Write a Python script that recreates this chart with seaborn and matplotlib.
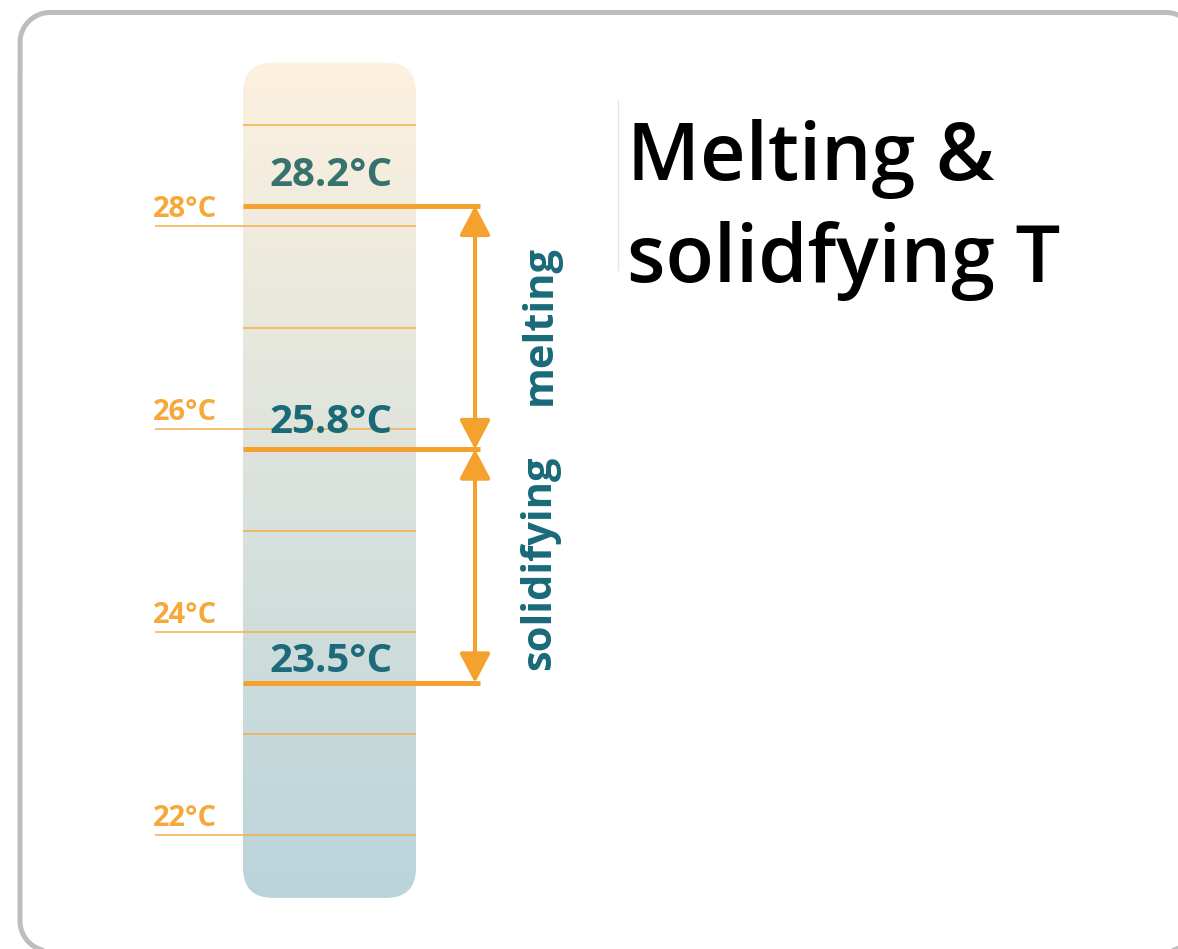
import numpy as np
import pandas as pd
import matplotlib
matplotlib.use("Agg")
import matplotlib.pyplot as plt
import matplotlib.patches as mpatches
import seaborn as sns

# ------------------------------------------------------------
# data
# ------------------------------------------------------------
tick_temps = [22, 23, 24, 25, 26, 27, 28, 29]
labeled_temps = [22, 24, 26, 28]
phase_temps = [28.2, 25.8, 23.5]
phase_label_colors = ['#37726e', '#196a79', '#1d6a7a']
phase_names = ['melting', 'solidifying']
title = 'Melting &\nsolidfying T'

col_top, col_bottom = 29.61, 21.38      # extent of the thermometer column (°C)

# ------------------------------------------------------------
# style
# ------------------------------------------------------------
sns.set_theme(style='white')
plt.rcParams['font.family'] = ['Open Sans', 'DejaVu Sans']

orange = '#f5a12e'
orange_thin = '#f7ae4a'
orange_text = '#f6a83a'
teal = '#196a79'

fig = plt.figure(figsize=(11.78, 9.49), dpi=100)

# pixel-space axes for frame / title (y measured from the bottom)
W, H = 1178, 949
frame = fig.add_axes([0, 0, 1, 1], zorder=0)
frame.set_xlim(0, W)
frame.set_ylim(0, H)
frame.axis('off')


def rounded_outline(left, top, right, bottom, r, n=40):
    # polyline of a rounded rectangle (pixel coords, y down)
    pts = []
    corners = [(right - r, top + r, -90, 0), (right - r, bottom - r, 0, 90),
               (left + r, bottom - r, 90, 180), (left + r, top + r, 180, 270)]
    for cx, cy, a0, a1 in corners:
        a = np.radians(np.linspace(a0, a1, n))
        pts += list(zip(cx + r * np.cos(a), cy + r * np.sin(a)))
    pts.append(pts[0])
    xs, ys = np.array(pts).T
    return xs, H - ys


bx, by = rounded_outline(20, 12.5, 1196, 951, 30)
frame.plot(bx, by, color='#bdbdbd', linewidth=3.6, solid_joinstyle='round',
           clip_on=True)
frame.plot([618, 618], [H - 100, H - 270], color='#dde8ec', linewidth=1)
frame.text(627, H - 119, title, fontsize=57, fontweight='semibold',
           color='black', va='top', ha='left', linespacing=1.36)

# temperature axes: x in pixels, y in °C
ax = fig.add_axes([0, 0, 1, 1], zorder=1)
ax.patch.set_alpha(0)
ax.set_xlim(0, W)
px_per_deg = 101.5
ax.set_ylim(28 - (H - 226) / px_per_deg, 28 + 226 / px_per_deg)
ax.axis('off')

# gradient column
x0, x1 = 243, 416
top_rgb = np.array([253, 241, 223]) / 255
bot_rgb = np.array([186, 212, 218]) / 255
t = np.linspace(0, 1, 256)[:, None]
grad = (top_rgb[None, :] * (1 - t) + bot_rgb[None, :] * t)[:, None, :]
col_patch = mpatches.FancyBboxPatch(
    (x0, col_bottom), x1 - x0, col_top - col_bottom,
    boxstyle='round,pad=0,rounding_size=30', mutation_aspect=1 / px_per_deg,
    facecolor='none', edgecolor='none')
ax.add_patch(col_patch)
im = ax.imshow(grad, extent=[x0, x1, col_bottom, col_top], aspect='auto',
               origin='upper', zorder=1)
im.set_clip_path(col_patch)

# scale ticks
ticks_df = pd.DataFrame({'temp': tick_temps})
ticks_df['xmin'] = np.where(ticks_df['temp'].isin(labeled_temps), 155, x0)
ax.hlines(ticks_df['temp'], ticks_df['xmin'], x1, color=orange_thin,
          linewidth=1.1, zorder=2)
for tv in labeled_temps:
    ax.annotate(f'{tv}°C', (153, tv), xytext=(0, 1.5), textcoords='offset points',
                ha='left', va='bottom', fontsize=21, fontweight='bold',
                color=orange_text, zorder=3)

# phase temperatures
label_offsets = [14.5, 11.5, 7.5]
ax.hlines(phase_temps, x0, 480, color=orange, linewidth=3.6, zorder=3)
for tv, c, off in zip(phase_temps, phase_label_colors, label_offsets):
    ax.annotate(f'{tv}°C', (331, tv), xytext=(0, off), textcoords='offset points',
                ha='center', va='baseline', fontsize=29, fontweight='bold',
                color=c, zorder=4)

# arrows between the phase lines
arrow_style = dict(arrowstyle='<|-|>,head_length=0.95,head_width=0.5',
                   mutation_scale=19, color=orange, linewidth=2.9,
                   shrinkA=0, shrinkB=0)
for (hi, lo), name in zip(zip(phase_temps[:-1], phase_temps[1:]), phase_names):
    ax.annotate('', xy=(475, hi), xytext=(475, lo), arrowprops=arrow_style,
                zorder=4)
    ax.annotate(name, (540, (hi + lo) / 2), xytext=(0, 2),
                textcoords='offset points', rotation=90, ha='center',
                va='center', fontsize=30, fontweight='bold', color=teal,
                zorder=4)

fig.savefig('out.png', dpi=100)
